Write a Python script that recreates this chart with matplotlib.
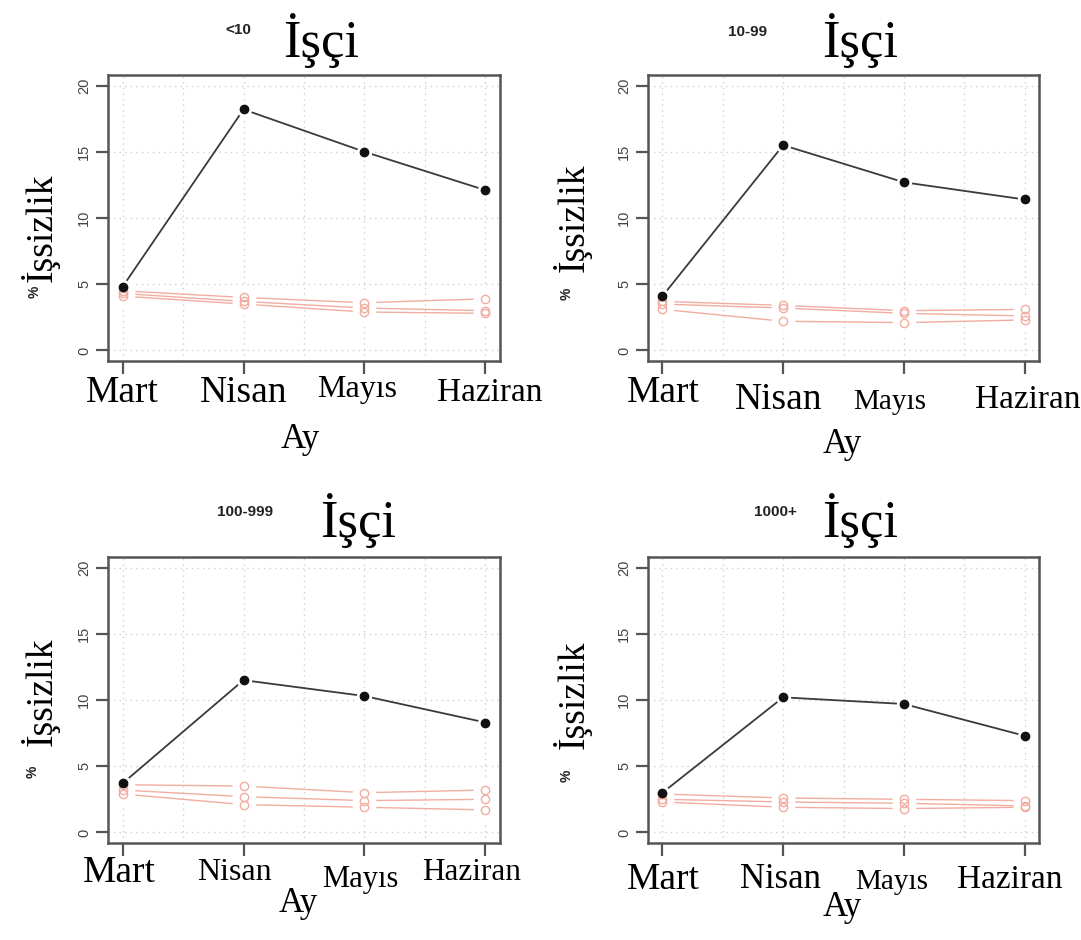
import numpy as np
import matplotlib.pyplot as plt

W, H = 1081, 940

months = ["Mart", "Nisan", "Mayıs", "Haziran"]
groups = ["<10", "10-99", "100-999", "1000+"]

# black series: unemployment per firm size group
main_vals = [
    [4.8, 18.2, 15.0, 12.1],
    [4.1, 15.5, 12.7, 11.4],
    [3.7, 11.5, 10.3, 8.3],
    [3.0, 10.2, 9.7, 7.3],
]

# light red comparison series (three per panel)
ref_vals = [
    [[4.5, 4.0, 3.6, 3.9], [4.3, 3.7, 3.2, 3.0], [4.1, 3.5, 2.9, 2.8]],
    [[3.7, 3.4, 3.0, 3.1], [3.5, 3.2, 2.8, 2.6], [3.1, 2.2, 2.1, 2.3]],
    [[3.6, 3.5, 3.0, 3.2], [3.2, 2.7, 2.4, 2.5], [2.9, 2.1, 1.9, 1.7]],
    [[2.9, 2.6, 2.5, 2.4], [2.5, 2.3, 2.2, 2.0], [2.3, 1.9, 1.8, 1.9]],
]
yticks = [0, 5, 10, 15, 20]

SERIF = ["Liberation Serif", "DejaVu Serif"]
SANS = ["Liberation Sans", "DejaVu Sans"]
RED = "#f2ada0"


def fx(x):
    return x / W


def fy(y):
    return 1 - y / H


# panel boxes in pixels: left, top, right, bottom
boxes = [(108, 75, 500, 361), (648, 75, 1039, 361),
         (108, 557, 500, 843), (648, 557, 1039, 843)]

# text placement per panel (pixels)
title_small = [(238, 30), (748, 32), (245, 512), (775, 512)]
title_big = [(321, 40), (860, 40), (358, 520), (860, 520)]
pct_pos = [(35, 292), (567, 294), (33, 772), (567, 776)]
ylab_pos = [(40, 228), (572, 218), (40, 692), (572, 695)]
xlab_y = [[393, 393, 390, 393], [393, 400, 402, 400],
          [873, 873, 880, 873], [880, 880, 882, 880]]
xlab_cx = [[122, 244, 357, 490], [663, 779, 890, 1028],
           [119, 234, 360, 472], [663, 780, 892, 1010]]
xlab_size = [[27, 27, 23, 24], [27, 27, 21, 24],
             [27, 23, 22, 22.5], [27, 25, 21, 24]]
ay_pos = [(300, 440), (842, 445), (298, 904), (842, 907)]

fig = plt.figure(figsize=(W / 100, H / 100), dpi=100, facecolor="white")
x = np.arange(1, len(months) + 1)

for i in range(4):
    l, t, r, b = boxes[i]
    ax = fig.add_axes([fx(l), fy(b), fx(r - l), (b - t) / H])
    ax.set_xlim(0.88, 4.12)
    ax.set_ylim(-0.8, 20.8)

    # dotted grid like R grid()
    for gx in np.arange(1, 4.01, 0.5):
        ax.axvline(gx, color="#cfcfcf", lw=1, ls=(0, (1, 3)), zorder=0)
    for gy in yticks:
        ax.axhline(gy, color="#cfcfcf", lw=1, ls=(0, (1, 3)), zorder=0)

    for s in ref_vals[i]:
        ax.plot(x, s, color=RED, lw=1.0, zorder=2)
    # gaps around points (type="b")
    for s in ref_vals[i]:
        ax.plot(x, s, ls="none", marker="o", ms=17, mfc="white", mec="none", zorder=3)
    ax.plot(x, main_vals[i], color="#3a3a3a", lw=1.3, zorder=4)
    ax.plot(x, main_vals[i], ls="none", marker="o", ms=11, mfc="white", mec="none", zorder=5)
    for s in ref_vals[i]:
        ax.plot(x, s, ls="none", marker="o", ms=6, mfc="none", mec=RED, mew=1, zorder=6)
    ax.plot(x, main_vals[i], ls="none", marker="o", ms=6, color="#111111", zorder=7)

    for sp in ax.spines.values():
        sp.set_color("#555555")
        sp.set_linewidth(1.8)
    ax.set_xticks(x)
    ax.set_xticklabels([])
    ax.set_yticks(yticks)
    ax.set_yticklabels([str(v) for v in yticks], rotation=90, va="center",
                       fontsize=10.5, color="#444444", family=SANS)
    ax.tick_params(axis="both", length=9, width=1.6, color="#555555", pad=3)

    # month labels
    for k, m in enumerate(months):
        fig.text(fx(xlab_cx[i][k]), fy(xlab_y[i][k]), m, ha="center", va="center",
                 fontsize=xlab_size[i][k], family=SERIF)
    fig.text(fx(ay_pos[i][0]), fy(ay_pos[i][1]), "Ay", ha="center", va="center",
             fontsize=25, family=SERIF)

    fig.text(fx(title_small[i][0]), fy(title_small[i][1]), groups[i], ha="center",
             va="center", fontsize=11, fontweight="bold", family=SANS, color="#222222")
    fig.text(fx(title_big[i][0]), fy(title_big[i][1]), "İşçi", ha="center",
             va="center", fontsize=38, family=SERIF)

    fig.text(fx(pct_pos[i][0]), fy(pct_pos[i][1]), "%", ha="center", va="center",
             rotation=90, fontsize=10, fontweight="bold", family=SANS, color="#222222")
    fig.text(fx(ylab_pos[i][0]), fy(ylab_pos[i][1]), "İşsizlik", ha="center",
             va="center", rotation=90, fontsize=27, family=SERIF)

fig.savefig("out.png", dpi=100, facecolor="white")
